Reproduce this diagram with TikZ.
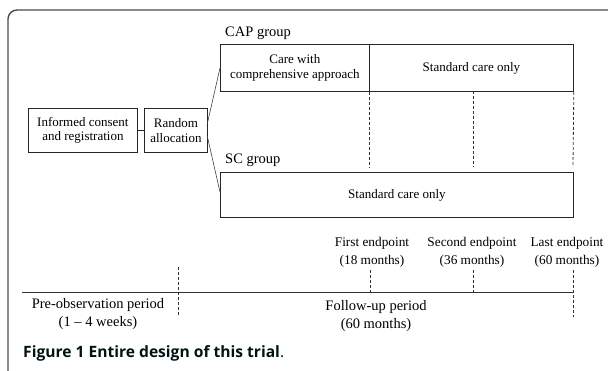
\documentclass[tikz,border=0pt]{standalone}
\usepackage{fontspec}
\setmainfont{Liberation Serif}
\newfontfamily\capfont{Open Sans}
\begin{document}
\begin{tikzpicture}[x=1pt,y=-1pt,
  ink/.style={draw=black!85,line width=0.8pt},
  cell/.style={ink,anchor=north west,inner sep=0pt,align=center,
    font=\fontsize{13}{14.5}\selectfont},
  dsh/.style={draw=black!80,line width=0.8pt,dash pattern=on 3pt off 2pt},
  grp/.style={anchor=west,inner sep=0pt,font=\fontsize{14.5}{16}\selectfont},
  lbl/.style={align=center,inner sep=0pt,font=\fontsize{13.3}{18}\selectfont},
  per/.style={align=center,inner sep=0pt,font=\fontsize{14.5}{18}\selectfont}]
\useasboundingbox (0,0) rectangle (608,371);
\begin{scope}
\clip (0,0) rectangle (608,371);
\draw[draw=black!70,line width=1.4pt,rounded corners=9pt] (8,10) rectangle (640,400);
\end{scope}
% boxes
\node[cell,minimum width=109pt,minimum height=44pt] (ic) at (28,108) {Informed consent\\and registration};
\node[cell,minimum width=63pt,minimum height=44pt] (ra) at (144,108) {Random\\allocation};
\draw[ink] (ic.east) -- (ra.east -| ra.west);
\node[grp] (capl) at (225,33) {CAP group};
\node[cell,minimum width=149pt,minimum height=47pt] (cap1) at (220,44) {Care with\\comprehensive approach};
\node[cell,minimum width=204pt,minimum height=47pt] (cap2) at (369,44) {Standard care only};
\node[grp] (scl) at (225,160) {SC group};
\node[cell,minimum width=353pt,minimum height=45pt] (sc) at (220,172) {Standard care only};
% connectors from random allocation
\coordinate (r1) at (207,125);
\coordinate (r2) at (207,135);
\coordinate (c1) at (220,68);
\coordinate (c2) at (220,192);
\draw[draw=black!75,line width=0.6pt] (r1) -- (c1);
\draw[draw=black!75,line width=0.6pt] (r2) -- (c2);
% dashed lines below CAP
\coordinate (d1) at (369,167);
\coordinate (d2) at (473,167);
\coordinate (d3) at (573,167);
\coordinate (u2) at (473,91);
\draw[dsh] (cap2.south west) -- (d1);
\draw[dsh] (u2) -- (d2);
\draw[dsh] (cap2.south east) -- (d3);
% timeline
\coordinate (t0) at (22,292);
\coordinate (t1) at (573,292);
\draw[draw=black!80,line width=0.8pt] (t0) -- (t1);
\coordinate (p1) at (178,267);
\coordinate (p2) at (178,315);
\draw[dsh] (p1) -- (p2);
\coordinate (e1a) at (370,270); \coordinate (e1b) at (370,292);
\coordinate (e2a) at (473,270); \coordinate (e2b) at (473,292);
\coordinate (e3a) at (573,270); \coordinate (e3b) at (573,317);
\draw[dsh] (e1a) -- (e1b);
\draw[dsh] (e2a) -- (e2b);
\draw[dsh] (e3a) -- (e3b);
\node[lbl] (ep1) at (372,252) {First endpoint\\(18 months)};
\node[lbl] (ep2) at (472,252) {Second endpoint\\(36 months)};
\node[lbl] (ep3) at (567,252) {Last endpoint\\(60 months)};
\node[per] (pre) at (98,314) {Pre-observation period\\(1 -- 4 weeks)};
\node[per] (fu) at (376,316) {Follow-up period\\(60 months)};
% caption
\node[anchor=west,inner sep=0pt,text=black!85!teal,font=\capfont\fontsize{15.6}{17}\selectfont] (cap) at (23,353) {\textbf{Figure 1 Entire design of this trial}.};
\end{tikzpicture}
\end{document}
